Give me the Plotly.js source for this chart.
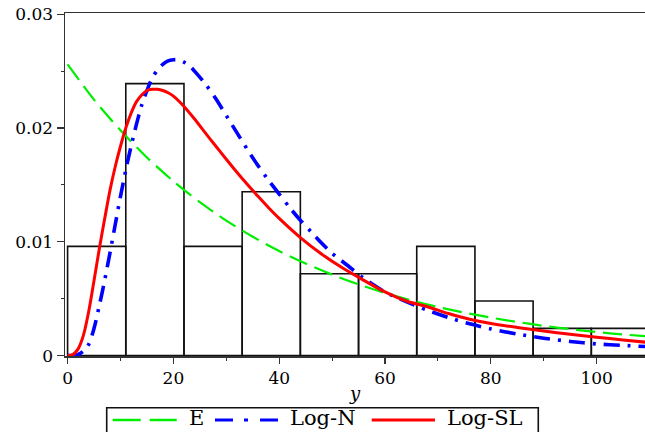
<!DOCTYPE html>
<html>
<head>
<meta charset="utf-8">
<script src="https://cdn.plot.ly/plotly-3.0.1.min.js"></script>
<style>html,body{margin:0;padding:0;background:#fff;}#chart{width:645px;height:432px;}</style>
</head>
<body>
<div id="chart"></div>
<script>
// Histogram (density) – left bin edges, bin width, heights
const binLeft = [0, 11, 22, 33, 44, 55, 66, 77, 88, 99];
const binWidth = 11;
const binDensity = [0.0096, 0.0239, 0.0096, 0.0144, 0.0072, 0.0072, 0.0096, 0.0048, 0.0024, 0.0024];

// E (exponential) fitted density
const xE = [0, 5, 10, 15, 20, 25, 30, 35, 40, 45, 50, 55, 60, 65, 70, 75, 80, 85, 90, 95, 100, 105, 110];
const yE = [0.0256, 0.0225, 0.0198, 0.01742, 0.01533, 0.01349, 0.01187, 0.01045, 0.00919, 0.00809, 0.00712, 0.00626, 0.00551, 0.00485, 0.00428, 0.00378, 0.00334, 0.00296, 0.00262, 0.00233, 0.00207, 0.00186, 0.00168];

// Log-N fitted density
const xLN = [0, 1, 2, 3, 4, 5, 6, 7, 8, 9, 10, 11, 12, 13, 14, 15, 16, 17, 18, 19, 20, 21, 22, 23, 24, 26, 28, 30, 32, 34, 36, 38, 40, 42, 44, 46, 48, 50, 53, 56, 60, 64, 68, 72, 76, 80, 85, 90, 95, 100, 105, 110];
const yLN = [0, 0.00001, 0.0001, 0.0004, 0.0010, 0.0024, 0.0044, 0.0066, 0.0090, 0.0115, 0.0140, 0.0163, 0.0184, 0.0203, 0.0220, 0.0233, 0.0244, 0.0251, 0.0256, 0.0259, 0.0260, 0.0260, 0.0258, 0.0255, 0.0250, 0.0239, 0.0226, 0.0211, 0.0196, 0.0181, 0.0167, 0.0154, 0.0142, 0.0130, 0.0119, 0.0109, 0.0099, 0.0090, 0.0079, 0.0068, 0.0056, 0.00475, 0.0040, 0.00335, 0.0028, 0.00235, 0.0019, 0.00153, 0.00125, 0.00103, 0.0009, 0.00078];

// Log-SL fitted density
const xSL = [0, 1, 2, 3, 4, 5, 6, 7, 8, 9, 10, 11, 12, 13, 14, 15, 16, 17, 18, 19, 20, 22, 24, 26, 28, 30, 32, 34, 36, 38, 40, 44, 48, 52, 56, 60, 64, 68, 72, 76, 80, 85, 90, 95, 100, 105, 110];
const ySL = [0, 0.0001, 0.0006, 0.0018, 0.0039, 0.0066, 0.0094, 0.0120, 0.0145, 0.0166, 0.0184, 0.0200, 0.0213, 0.0223, 0.0229, 0.0233, 0.0234, 0.0234, 0.0233, 0.0231, 0.0228, 0.0219, 0.0208, 0.0196, 0.01842, 0.01726, 0.01612, 0.01504, 0.0140, 0.0130, 0.01206, 0.01038, 0.00894, 0.0077, 0.00662, 0.0056, 0.0048, 0.0043, 0.0037, 0.0032, 0.00283, 0.00248, 0.00216, 0.00188, 0.00162, 0.00138, 0.00115];

const seriesNames = ['E', 'Log-N', 'Log-SL'];
const xTickVals = [0, 20, 40, 60, 80, 100];
const yTickVals = [0, 0.01, 0.02, 0.03];
const yTickText = ['0', '0.01', '0.02', '0.03'];

const SERIF = 'DejaVu Serif, Liberation Serif, serif';

const traces = [
  {
    type: 'bar', x: binLeft, y: binDensity, width: binLeft.map(() => binWidth), offset: 0,
    marker: {color: 'rgba(255,255,255,0)', line: {color: '#111', width: 1.6}},
    showlegend: false, hoverinfo: 'skip'
  },
  {
    type: 'scatter', mode: 'lines', x: xE, y: yE, name: seriesNames[0],
    line: {color: '#00ee00', width: 2.2, dash: '19px,8px', shape: 'spline', smoothing: 0.8},
    showlegend: false
  },
  {
    type: 'scatter', mode: 'lines', x: xLN, y: yLN, name: seriesNames[1],
    line: {color: '#0000ff', width: 3.6, dash: '16px,8px,3px,8px', shape: 'spline', smoothing: 0.8},
    showlegend: false
  },
  {
    type: 'scatter', mode: 'lines', x: xSL, y: ySL, name: seriesNames[2],
    line: {color: '#ff0000', width: 3, shape: 'spline', smoothing: 0.8},
    showlegend: false
  }
];

// custom legend (paper coordinates)
const legY = -0.1866;
const legTextY = -0.1822;
const shapes = [
  {type: 'rect', xref: 'paper', yref: 'paper', x0: 0.0719, x1: 0.8160, y0: -0.2595, y1: -0.1507,
   line: {color: '#111', width: 1.6}, fillcolor: 'rgba(0,0,0,0)'},
  {type: 'line', xref: 'paper', yref: 'paper', x0: 0.0822, x1: 0.1926, y0: legY, y1: legY,
   line: {color: '#00ee00', width: 2.6, dash: '28px,9px'}},
  {type: 'line', xref: 'paper', yref: 'paper', x0: 0.2586, x1: 0.3678, y0: legY, y1: legY,
   line: {color: '#0000ff', width: 3, dash: '18px,11px,4px,12px'}},
  {type: 'line', xref: 'paper', yref: 'paper', x0: 0.5288, x1: 0.6379, y0: legY, y1: legY,
   line: {color: '#ff0000', width: 3.2}}
];
const legFont = {family: SERIF, size: 21, color: '#000'};
const annotations = [
  {xref: 'paper', yref: 'paper', x: 0.2109, y: legTextY, xanchor: 'left', yanchor: 'middle', text: seriesNames[0], showarrow: false, font: legFont},
  {xref: 'paper', yref: 'paper', x: 0.385, y: legTextY, xanchor: 'left', yanchor: 'middle', text: seriesNames[1], showarrow: false, font: legFont},
  {xref: 'paper', yref: 'paper', x: 0.6552, y: legTextY, xanchor: 'left', yanchor: 'middle', text: seriesNames[2], showarrow: false, font: legFont}
];

const layout = {
  width: 645, height: 432,
  margin: {l: 65, r: 0, t: 13, b: 76, pad: 0},
  paper_bgcolor: '#fff', plot_bgcolor: '#fff',
  showlegend: false,
  barmode: 'overlay',
  xaxis: {
    range: [-0.49, 109.15], showgrid: false, zeroline: false,
    showline: true, linecolor: '#333', linewidth: 1.5, mirror: true,
    ticks: 'outside', ticklen: 6, tickwidth: 1.2, tickcolor: '#333',
    tickvals: xTickVals, ticktext: xTickVals.map(String),
    minor: {dtick: 10, tick0: 0, ticks: 'outside', ticklen: 3, tickwidth: 1, tickcolor: '#333'},
    tickfont: {family: SERIF, size: 17, color: '#000'},
    title: {text: '<i>y</i>', font: {family: SERIF, size: 18, color: '#000'}, standoff: 0},
    automargin: false
  },
  yaxis: {
    range: [-0.00003, 0.03011], showgrid: false, zeroline: false,
    showline: true, linecolor: '#333', linewidth: 1.5, mirror: false,
    ticks: 'outside', ticklen: 7, tickwidth: 1.2, tickcolor: '#333',
    tickvals: yTickVals, ticktext: yTickText,
    minor: {dtick: 0.005, tick0: 0, ticks: 'outside', ticklen: 3, tickwidth: 1, tickcolor: '#333'},
    tickfont: {family: SERIF, size: 17, color: '#000'},
    automargin: false
  },
  shapes: shapes,
  annotations: annotations
};

Plotly.newPlot('chart', traces, layout, {displayModeBar: false, staticPlot: true});
</script>
</body>
</html>
